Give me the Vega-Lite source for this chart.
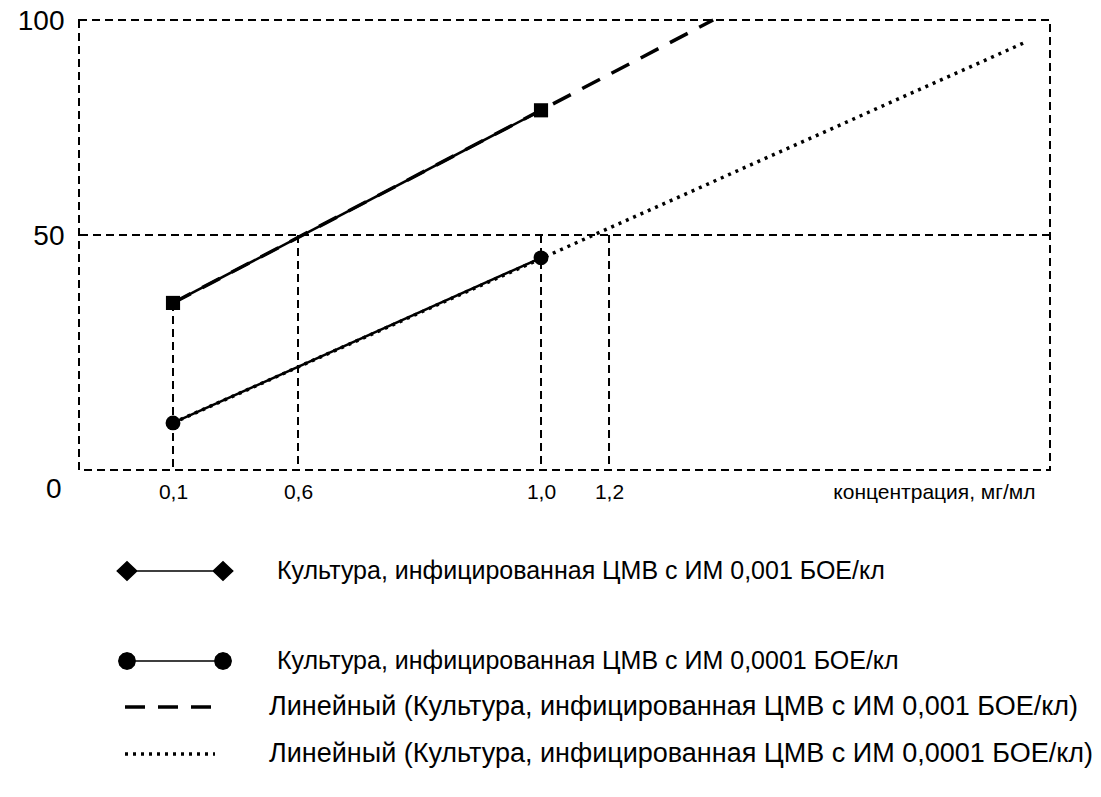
{
  "$schema": "https://vega.github.io/schema/vega-lite/v6.json",
  "width": 971,
  "height": 450,
  "autosize": {"type": "none"},
  "padding": {"left": 79, "top": 20, "right": 51, "bottom": 327},
  "background": "white",
  "config": {
    "font": "Liberation Sans",
    "view": {"stroke": "black", "strokeDash": [8, 5], "strokeWidth": 2},
    "legend": {"padding": 0, "labelColor": "black", "labelFont": "Liberation Sans", "labelLimit": 900, "title": null}
  },
  "datasets": {
    "points": [
      {"series": "Культура, инфицированная ЦМВ с ИМ 0,001 БОЕ/кл", "conc": 0.1, "pct": 34.2},
      {"series": "Культура, инфицированная ЦМВ с ИМ 0,001 БОЕ/кл", "conc": 1.0, "pct": 79},
      {"series": "Культура, инфицированная ЦМВ с ИМ 0,0001 БОЕ/кл", "conc": 0.1, "pct": 6.3},
      {"series": "Культура, инфицированная ЦМВ с ИМ 0,0001 БОЕ/кл", "conc": 1.0, "pct": 44.7}
    ],
    "trends": [
      {"series": "Линейный (Культура, инфицированная ЦМВ с ИМ 0,001 БОЕ/кл)", "conc": 0.1, "pct": 34.2},
      {"series": "Линейный (Культура, инфицированная ЦМВ с ИМ 0,001 БОЕ/кл)", "conc": 1.421, "pct": 100},
      {"series": "Линейный (Культура, инфицированная ЦМВ с ИМ 0,0001 БОЕ/кл)", "conc": 0.1, "pct": 6.3},
      {"series": "Линейный (Культура, инфицированная ЦМВ с ИМ 0,0001 БОЕ/кл)", "conc": 2.1885, "pct": 95}
    ],
    "guides": [
      {"conc": 0.1, "top": 34.2},
      {"conc": 0.4057, "top": 50},
      {"conc": 1.0, "top": 50},
      {"conc": 1.1663, "top": 50}
    ],
    "levels": [{"level": 50}]
  },
  "layer": [
    {
      "data": {"name": "levels"},
      "mark": {"type": "rule", "color": "black", "strokeDash": [8, 5], "strokeWidth": 2},
      "encoding": {
        "y": {
          "field": "level", "type": "quantitative",
          "scale": {"domain": [-4.65, 100], "nice": false, "zero": false},
          "axis": {
            "title": null, "values": [0, 50, 100], "domain": false, "ticks": false, "grid": false,
            "labelFontSize": 28, "labelColor": "black", "labelFont": "Liberation Sans",
            "labelPadding": {"condition": {"test": "datum.value === 0", "value": 18}, "value": 15},
            "labelOffset": {"condition": {"test": "datum.value === 0", "value": 39}, "value": 1}
          }
        }
      }
    },
    {
      "data": {"name": "guides"},
      "mark": {"type": "rule", "color": "black", "strokeDash": [8, 5], "strokeWidth": 2},
      "encoding": {
        "x": {
          "field": "conc", "type": "quantitative",
          "scale": {"domain": [-0.1299, 2.2448], "nice": false, "zero": false},
          "axis": {
            "title": "концентрация, мг/мл", "values": [0.1, 0.4057, 1.0, 1.1663],
            "labelExpr": "datum.value < 0.2 ? '0,1' : datum.value < 0.5 ? '0,6' : datum.value < 1.1 ? '1,0' : '1,2'",
            "domain": false, "ticks": false, "grid": false,
            "labelFontSize": 21, "labelColor": "black", "labelFont": "Liberation Sans", "labelPadding": 11,
            "titleFontSize": 21, "titleFontWeight": "normal", "titleColor": "black", "titleFont": "Liberation Sans",
            "titleX": 956, "titleY": 11, "titleAlign": "right", "titleBaseline": "top", "titleAnchor": null
          }
        },
        "y": {"field": "top", "type": "quantitative"},
        "y2": {"datum": -4.65}
      }
    },
    {
      "data": {"name": "points"},
      "mark": {"type": "line", "color": "black", "strokeWidth": 2.5},
      "encoding": {
        "x": {"field": "conc", "type": "quantitative"},
        "y": {"field": "pct", "type": "quantitative"},
        "detail": {"field": "series"}
      }
    },
    {
      "data": {"name": "trends"},
      "mark": {"type": "line", "color": "black", "strokeWidth": 3.5},
      "encoding": {
        "x": {"field": "conc", "type": "quantitative"},
        "y": {"field": "pct", "type": "quantitative"},
        "strokeDash": {
          "field": "series", "type": "nominal",
          "scale": {
            "domain": ["Линейный (Культура, инфицированная ЦМВ с ИМ 0,001 БОЕ/кл)", "Линейный (Культура, инфицированная ЦМВ с ИМ 0,0001 БОЕ/кл)"],
            "range": [[20, 13], [3, 5]]
          },
          "legend": {
            "orient": "none", "legendX": 66.5, "legendY": 662.5,
            "symbolType": "M-2,0L2,0", "symbolSize": 2025, "symbolStrokeWidth": 3.5,
            "symbolStrokeColor": "black", "labelOffset": 74.5, "rowPadding": 9, "labelFontSize": 27
          }
        }
      }
    },
    {
      "data": {"name": "points"},
      "mark": {"type": "point", "filled": true, "color": "black", "stroke": "black", "strokeWidth": 1.5, "opacity": 0},
      "encoding": {
        "x": {"field": "conc", "type": "quantitative"},
        "y": {"field": "pct", "type": "quantitative"},
        "shape": {
          "field": "series", "type": "nominal",
          "scale": {
            "domain": ["Культура, инфицированная ЦМВ с ИМ 0,001 БОЕ/кл", "Культура, инфицированная ЦМВ с ИМ 0,0001 БОЕ/кл"],
            "range": [
              "M-2,-0.035L2,-0.035L2,0.035L-2,0.035ZM-2.45,0L-2,-0.43L-1.55,0L-2,0.43ZM1.55,0L2,-0.43L2.45,0L2,0.43Z",
              "M-2,-0.035L2,-0.035L2,0.035L-2,0.035ZM-1.625,0L-1.675,0.1875L-1.8125,0.325L-2,0.375L-2.1875,0.325L-2.325,0.1875L-2.375,0L-2.325,-0.1875L-2.1875,-0.325L-2,-0.375L-1.8125,-0.325L-1.675,-0.1875ZM2.375,0L2.325,0.1875L2.1875,0.325L2,0.375L1.8125,0.325L1.675,0.1875L1.625,0L1.675,-0.1875L1.8125,-0.325L2,-0.375L2.1875,-0.325L2.325,-0.1875Z"
            ]
          },
          "legend": {
            "orient": "none", "legendX": 71, "legendY": 526,
            "symbolSize": 2304, "symbolStrokeWidth": 1.5, "symbolStrokeColor": "black", "symbolFillColor": "black",
            "labelOffset": 77, "rowPadding": 51, "labelFontSize": 25
          }
        }
      }
    },
    {
      "data": {"name": "points"},
      "transform": [{"filter": "datum.series === 'Культура, инфицированная ЦМВ с ИМ 0,001 БОЕ/кл'"}],
      "mark": {"type": "point", "filled": true, "color": "black", "size": 200, "opacity": 1, "shape": "square"},
      "encoding": {
        "x": {"field": "conc", "type": "quantitative"},
        "y": {"field": "pct", "type": "quantitative"}
      }
    },
    {
      "data": {"name": "points"},
      "transform": [{"filter": "datum.series === 'Культура, инфицированная ЦМВ с ИМ 0,0001 БОЕ/кл'"}],
      "mark": {"type": "point", "filled": true, "color": "black", "size": 220, "opacity": 1, "shape": "circle"},
      "encoding": {
        "x": {"field": "conc", "type": "quantitative"},
        "y": {"field": "pct", "type": "quantitative"}
      }
    }
  ]
}
